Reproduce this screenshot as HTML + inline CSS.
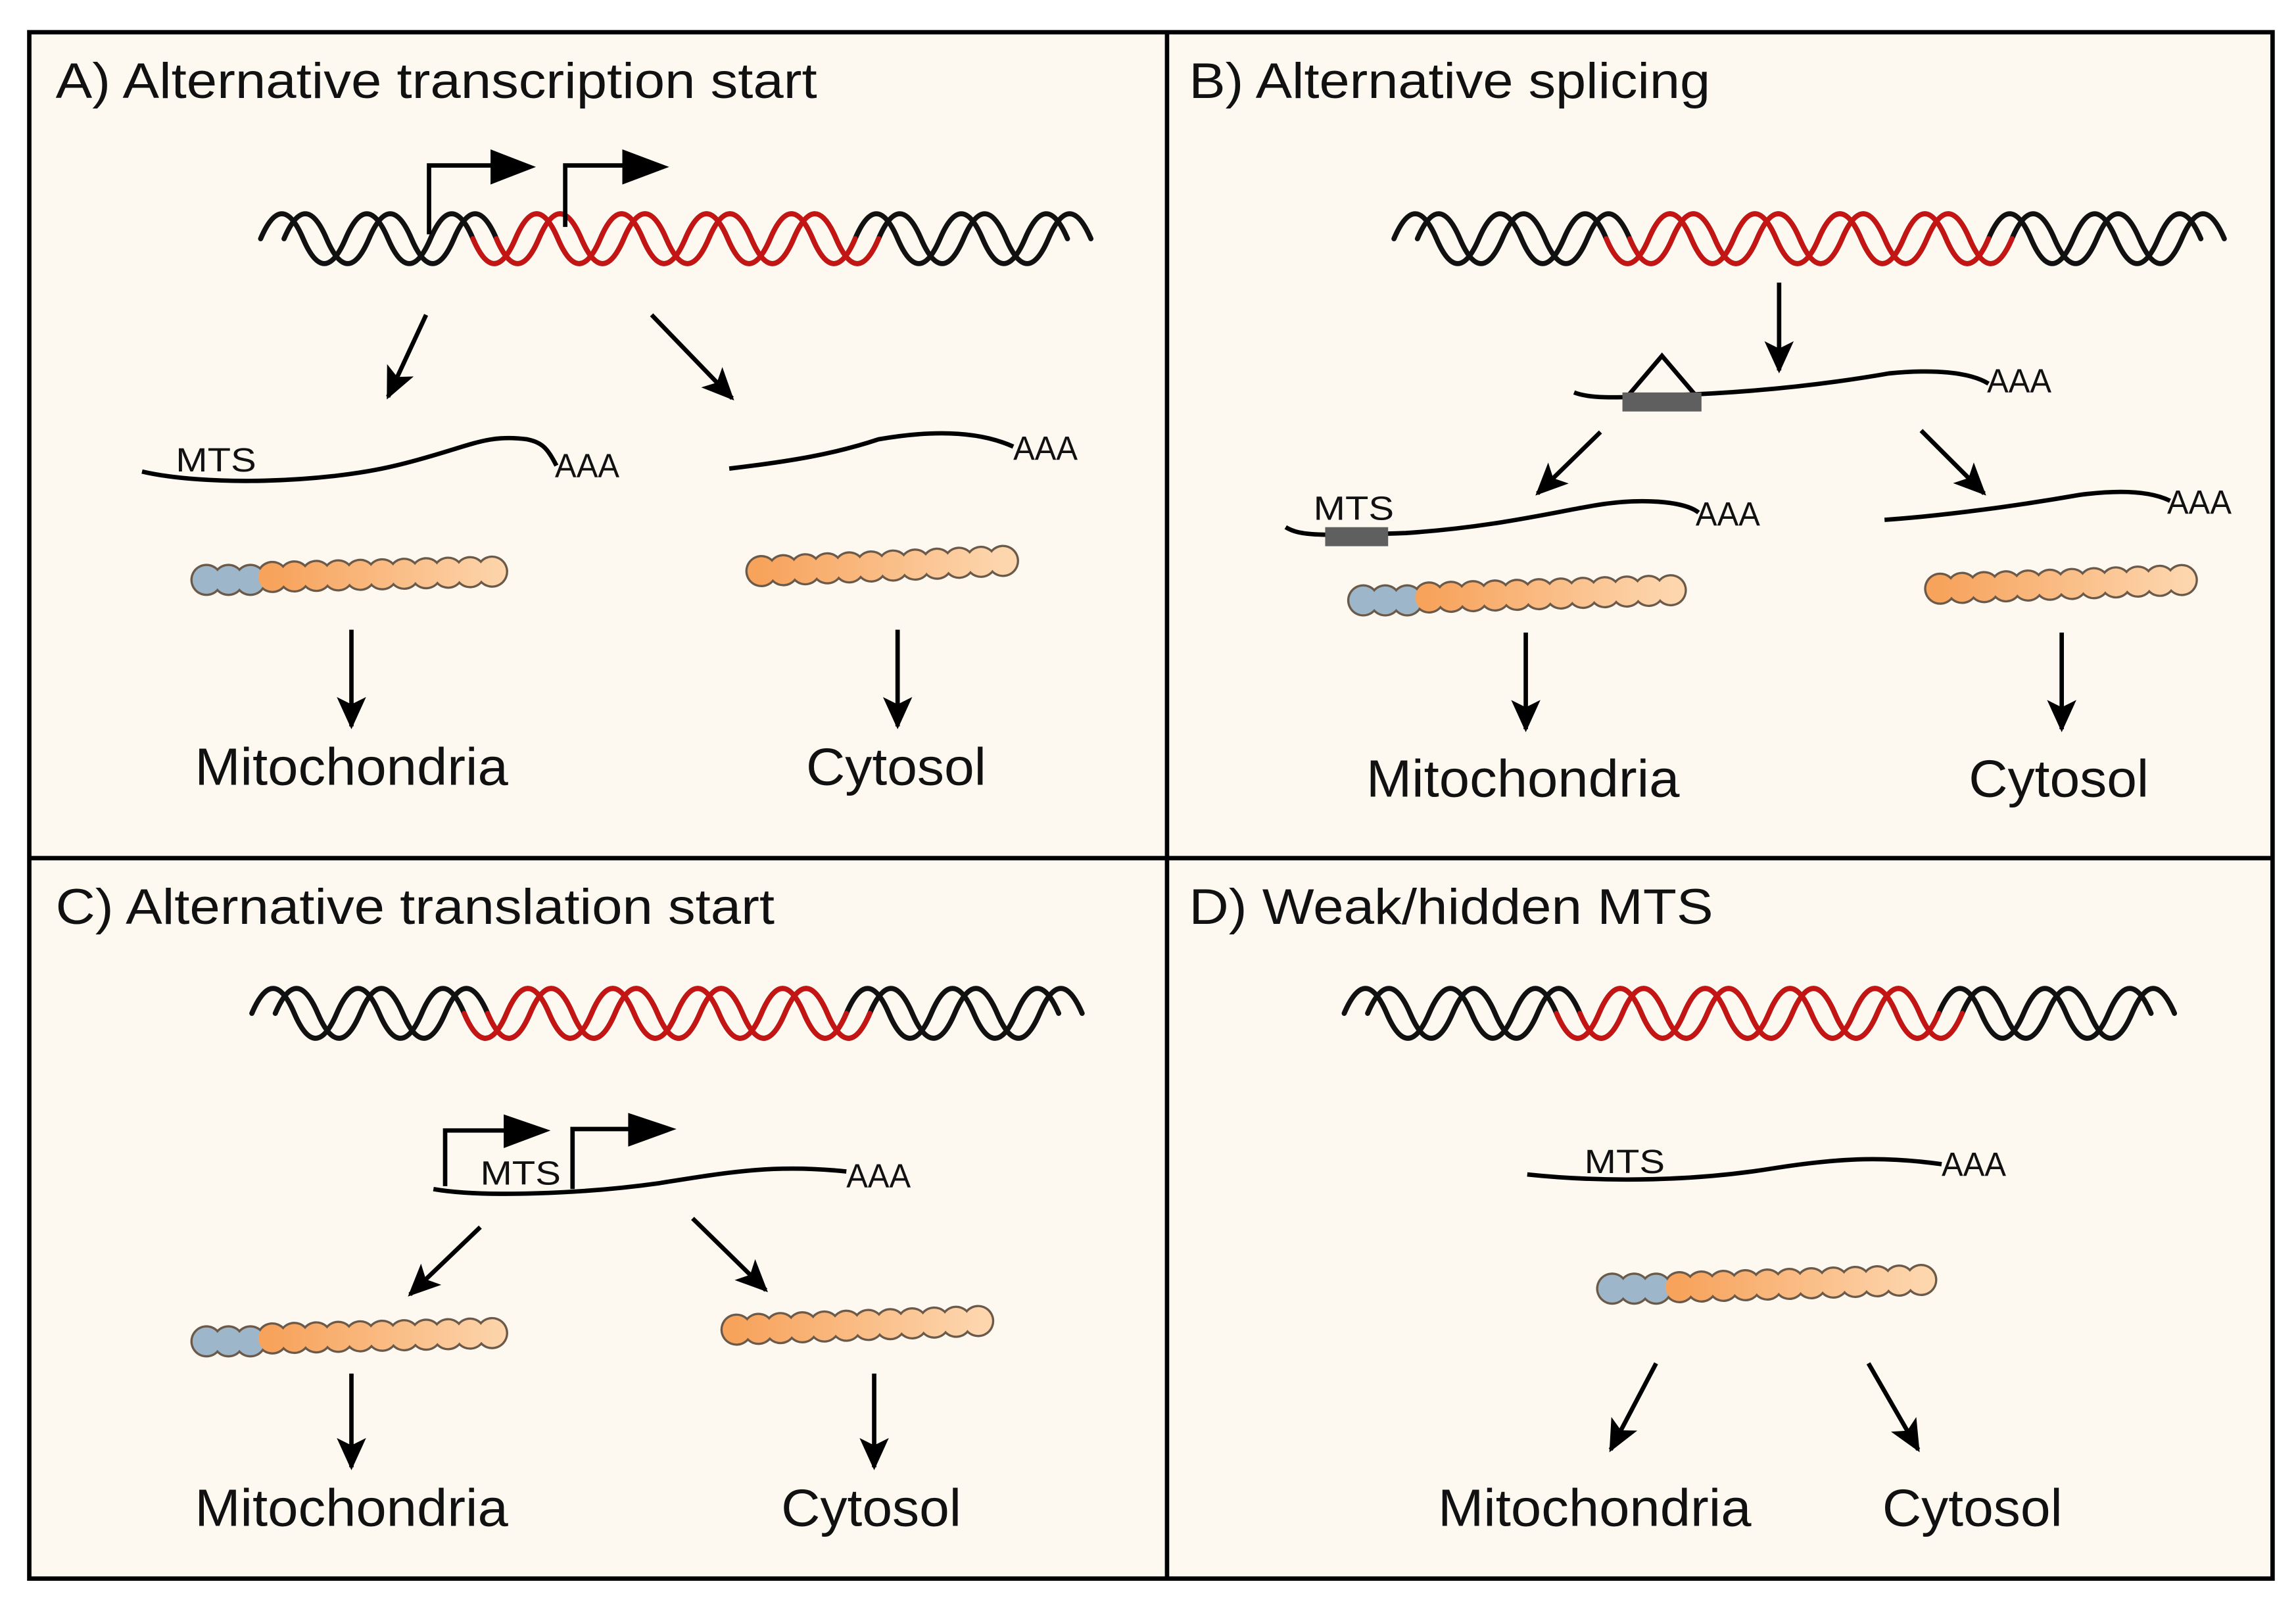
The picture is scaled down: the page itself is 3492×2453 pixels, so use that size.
<!DOCTYPE html>
<html><head><meta charset="utf-8"><style>
html,body{margin:0;padding:0;background:#fff;}
svg{display:block;}
text{font-family:"Liberation Sans",Arial,sans-serif;fill:#111;}
</style></head><body>
<svg width="3492" height="2453" viewBox="0 0 1568 1101.5" preserveAspectRatio="none" xmlns="http://www.w3.org/2000/svg">
<defs>
<marker id="ah" markerUnits="userSpaceOnUse" markerWidth="24" markerHeight="20" refX="20" refY="10" orient="auto">
<path d="M0 0 L22 10 L0 20 L5 10 Z" fill="#000"/>
</marker>
<linearGradient id="g1" gradientUnits="userSpaceOnUse" x1="186" y1="0" x2="350" y2="0"><stop offset="0" stop-color="#f7a35c"/><stop offset="1" stop-color="#fdd6ae"/></linearGradient>
<linearGradient id="g2" gradientUnits="userSpaceOnUse" x1="520" y1="0" x2="685" y2="0"><stop offset="0" stop-color="#f7a35c"/><stop offset="1" stop-color="#fdd6ae"/></linearGradient>
<linearGradient id="g3" gradientUnits="userSpaceOnUse" x1="976" y1="0" x2="1142" y2="0"><stop offset="0" stop-color="#f7a35c"/><stop offset="1" stop-color="#fdd6ae"/></linearGradient>
<linearGradient id="g4" gradientUnits="userSpaceOnUse" x1="1325" y1="0" x2="1492" y2="0"><stop offset="0" stop-color="#f7a35c"/><stop offset="1" stop-color="#fdd6ae"/></linearGradient>
<linearGradient id="g5" gradientUnits="userSpaceOnUse" x1="186" y1="0" x2="350" y2="0"><stop offset="0" stop-color="#f7a35c"/><stop offset="1" stop-color="#fdd6ae"/></linearGradient>
<linearGradient id="g6" gradientUnits="userSpaceOnUse" x1="503" y1="0" x2="670" y2="0"><stop offset="0" stop-color="#f7a35c"/><stop offset="1" stop-color="#fdd6ae"/></linearGradient>
<linearGradient id="g7" gradientUnits="userSpaceOnUse" x1="1147" y1="0" x2="1313" y2="0"><stop offset="0" stop-color="#f7a35c"/><stop offset="1" stop-color="#fdd6ae"/></linearGradient>
</defs>
<rect x="0" y="0" width="1568" height="1101.5" fill="#fff"/>
<rect x="20" y="22" width="1532" height="1056" fill="#fdf9f1" stroke="#000" stroke-width="3"/>
<line x1="797" y1="22" x2="797" y2="1078" stroke="#000" stroke-width="3"/>
<line x1="20" y1="586" x2="1552" y2="586" stroke="#000" stroke-width="3"/>

<!-- Titles -->
<text x="38" y="67" font-size="34" textLength="520" lengthAdjust="spacingAndGlyphs">A) Alternative transcription start</text>
<text x="812" y="67" font-size="34" textLength="356" lengthAdjust="spacingAndGlyphs">B) Alternative splicing</text>
<text x="38" y="631" font-size="34" textLength="491" lengthAdjust="spacingAndGlyphs">C) Alternative translation start</text>
<text x="812" y="631" font-size="34" textLength="358" lengthAdjust="spacingAndGlyphs">D) Weak/hidden MTS</text>

<g fill="none" stroke-width="3.5" stroke-linecap="round">
<path stroke="#111" d="M178 163 q14.5 -34 29 0 t29 0 t29 0 t29 0 t29 0 t29 0 t29 0 t29 0 t29 0 t29 0 t29 0 t29 0 t29 0 t29 0 t29 0 t29 0 t29 0 t29 0 t29 0"/>
<path stroke="#111" d="M194 163 q14.5 -34 29 0 t29 0 t29 0 t29 0 t29 0 t29 0 t29 0 t29 0 t29 0 t29 0 t29 0 t29 0 t29 0 t29 0 t29 0 t29 0 t29 0 t29 0 t29 0"/>
<path stroke="#c41515" d="M323 163 q14.5 34 29 0 t29 0 t29 0 t29 0 t29 0 t29 0 t29 0 t29 0 t29 0"/>
<path stroke="#c41515" d="M339 163 q14.5 34 29 0 t29 0 t29 0 t29 0 t29 0 t29 0 t29 0 t29 0 t29 0"/>
<path stroke="#111" d="M952 163 q14.5 -34 29 0 t29 0 t29 0 t29 0 t29 0 t29 0 t29 0 t29 0 t29 0 t29 0 t29 0 t29 0 t29 0 t29 0 t29 0 t29 0 t29 0 t29 0 t29 0"/>
<path stroke="#111" d="M968 163 q14.5 -34 29 0 t29 0 t29 0 t29 0 t29 0 t29 0 t29 0 t29 0 t29 0 t29 0 t29 0 t29 0 t29 0 t29 0 t29 0 t29 0 t29 0 t29 0 t29 0"/>
<path stroke="#c41515" d="M1097 163 q14.5 34 29 0 t29 0 t29 0 t29 0 t29 0 t29 0 t29 0 t29 0 t29 0"/>
<path stroke="#c41515" d="M1113 163 q14.5 34 29 0 t29 0 t29 0 t29 0 t29 0 t29 0 t29 0 t29 0 t29 0"/>
<path stroke="#111" d="M172 692 q14.5 -34 29 0 t29 0 t29 0 t29 0 t29 0 t29 0 t29 0 t29 0 t29 0 t29 0 t29 0 t29 0 t29 0 t29 0 t29 0 t29 0 t29 0 t29 0 t29 0"/>
<path stroke="#111" d="M188 692 q14.5 -34 29 0 t29 0 t29 0 t29 0 t29 0 t29 0 t29 0 t29 0 t29 0 t29 0 t29 0 t29 0 t29 0 t29 0 t29 0 t29 0 t29 0 t29 0 t29 0"/>
<path stroke="#c41515" d="M317 692 q14.5 34 29 0 t29 0 t29 0 t29 0 t29 0 t29 0 t29 0 t29 0 t29 0"/>
<path stroke="#c41515" d="M333 692 q14.5 34 29 0 t29 0 t29 0 t29 0 t29 0 t29 0 t29 0 t29 0 t29 0"/>
<path stroke="#111" d="M918 692 q14.5 -34 29 0 t29 0 t29 0 t29 0 t29 0 t29 0 t29 0 t29 0 t29 0 t29 0 t29 0 t29 0 t29 0 t29 0 t29 0 t29 0 t29 0 t29 0 t29 0"/>
<path stroke="#111" d="M934 692 q14.5 -34 29 0 t29 0 t29 0 t29 0 t29 0 t29 0 t29 0 t29 0 t29 0 t29 0 t29 0 t29 0 t29 0 t29 0 t29 0 t29 0 t29 0 t29 0 t29 0"/>
<path stroke="#c41515" d="M1063 692 q14.5 34 29 0 t29 0 t29 0 t29 0 t29 0 t29 0 t29 0 t29 0 t29 0"/>
<path stroke="#c41515" d="M1079 692 q14.5 34 29 0 t29 0 t29 0 t29 0 t29 0 t29 0 t29 0 t29 0 t29 0"/>
</g>

<g fill="none" stroke="#000" stroke-width="3">
<path d="M293 160 V113 H338"/>
<path d="M386 155 V113 H428"/>
<path d="M304 810 V772 H348"/>
<path d="M391 812 V771 H433"/>
</g>
<g fill="#000">
<path d="M335 102 L366 114 L335 126 Z"/>
<path d="M425 102 L457 114 L425 126 Z"/>
<path d="M344 761 L376 772 L344 784 Z"/>
<path d="M429 760 L462 771 L429 783 Z"/>
</g>

<g fill="none" stroke="#000" stroke-width="3">
<path d="M97 322 C140 332 220 330 270 318 C320 306 330 296 360 300 C370 302 374 306 380 318"/>
<path d="M498 320 C540 315 570 310 600 300 C640 293 670 295 692 305"/>
<path d="M1075 268 C1085 272 1100 272 1140 270 C1200 268 1250 262 1290 255 C1320 252 1345 254 1358 262"/>
<path d="M878 360 C888 366 900 366 960 364 C1020 360 1060 350 1090 345 C1120 340 1150 342 1160 350"/>
<path d="M1287 355 C1330 352 1380 345 1420 338 C1450 334 1470 336 1482 342"/>
<path d="M296 812 C330 818 400 815 450 808 C500 800 530 795 578 800"/>
<path d="M1043 802 C1100 808 1160 806 1210 798 C1260 790 1290 790 1326 795"/>
<path d="M1112 270 L1135 243 L1158 270"/>
</g>
<rect x="1108" y="268" width="54" height="13" fill="#5f5f5f"/>
<rect x="905" y="360" width="43" height="13" fill="#5f5f5f"/>

<g font-size="23">
<text x="120" y="322" textLength="55" lengthAdjust="spacingAndGlyphs">MTS</text><text x="379" y="326" textLength="44" lengthAdjust="spacingAndGlyphs">AAA</text>
<text x="692" y="314" textLength="44" lengthAdjust="spacingAndGlyphs">AAA</text>
<text x="1357" y="268" textLength="44" lengthAdjust="spacingAndGlyphs">AAA</text>
<text x="897" y="355" textLength="55" lengthAdjust="spacingAndGlyphs">MTS</text><text x="1158" y="359" textLength="44" lengthAdjust="spacingAndGlyphs">AAA</text>
<text x="1480" y="351" textLength="44" lengthAdjust="spacingAndGlyphs">AAA</text>
<text x="328" y="809" textLength="55" lengthAdjust="spacingAndGlyphs">MTS</text><text x="578" y="811" textLength="44" lengthAdjust="spacingAndGlyphs">AAA</text>
<text x="1082" y="801" textLength="55" lengthAdjust="spacingAndGlyphs">MTS</text><text x="1326" y="803" textLength="44" lengthAdjust="spacingAndGlyphs">AAA</text>
</g>

<g fill="none" stroke="#6b5a4a" stroke-width="22" stroke-linecap="round" stroke-dasharray="0.01 15">
<path d="M141 396 L172 396"/><path d="M186 394 L351 390"/>
<path d="M520 390 L686 383"/>
<path d="M931 410 L962 410"/><path d="M976 408 L1143 403"/>
<path d="M1325 402 L1493 396"/>
<path d="M141 916 L172 916"/><path d="M186 914 L351 910"/>
<path d="M503 908 L671 902"/>
<path d="M1101 880 L1132 880"/><path d="M1147 879 L1314 874"/>
</g>
<g fill="none" stroke-width="19" stroke-linecap="round" stroke-dasharray="0.01 15">
<path stroke="#9db6c9" d="M141 396 L172 396"/><path stroke="url(#g1)" d="M186 394 L351 390"/>
<path stroke="url(#g2)" d="M520 390 L686 383"/>
<path stroke="#9db6c9" d="M931 410 L962 410"/><path stroke="url(#g3)" d="M976 408 L1143 403"/>
<path stroke="url(#g4)" d="M1325 402 L1493 396"/>
<path stroke="#9db6c9" d="M141 916 L172 916"/><path stroke="url(#g5)" d="M186 914 L351 910"/>
<path stroke="url(#g6)" d="M503 908 L671 902"/>
<path stroke="#9db6c9" d="M1101 880 L1132 880"/><path stroke="url(#g7)" d="M1147 879 L1314 874"/>
</g>

<g stroke="#000" stroke-width="3" marker-end="url(#ah)">
<line x1="291" y1="215" x2="265" y2="271"/>
<line x1="445" y1="215" x2="500" y2="272"/>
<line x1="240" y1="430" x2="240" y2="496"/>
<line x1="613" y1="430" x2="613" y2="496"/>
<line x1="1215" y1="193" x2="1215" y2="253"/>
<line x1="1093" y1="295" x2="1050" y2="337"/>
<line x1="1312" y1="294" x2="1355" y2="337"/>
<line x1="1042" y1="432" x2="1042" y2="498"/>
<line x1="1408" y1="432" x2="1408" y2="498"/>
<line x1="328" y1="838" x2="280" y2="884"/>
<line x1="473" y1="832" x2="523" y2="881"/>
<line x1="240" y1="938" x2="240" y2="1002"/>
<line x1="597" y1="938" x2="597" y2="1002"/>
<line x1="1131" y1="931" x2="1100" y2="990"/>
<line x1="1276" y1="931" x2="1310" y2="990"/>
</g>

<g font-size="36" text-anchor="middle">
<text x="240" y="536" textLength="214" lengthAdjust="spacingAndGlyphs">Mitochondria</text>
<text x="612" y="536" textLength="123" lengthAdjust="spacingAndGlyphs">Cytosol</text>
<text x="1040" y="544" textLength="214" lengthAdjust="spacingAndGlyphs">Mitochondria</text>
<text x="1406" y="544" textLength="123" lengthAdjust="spacingAndGlyphs">Cytosol</text>
<text x="240" y="1042" textLength="214" lengthAdjust="spacingAndGlyphs">Mitochondria</text>
<text x="595" y="1042" textLength="123" lengthAdjust="spacingAndGlyphs">Cytosol</text>
<text x="1089" y="1042" textLength="214" lengthAdjust="spacingAndGlyphs">Mitochondria</text>
<text x="1347" y="1042" textLength="123" lengthAdjust="spacingAndGlyphs">Cytosol</text>
</g>
</svg>
</body></html>
